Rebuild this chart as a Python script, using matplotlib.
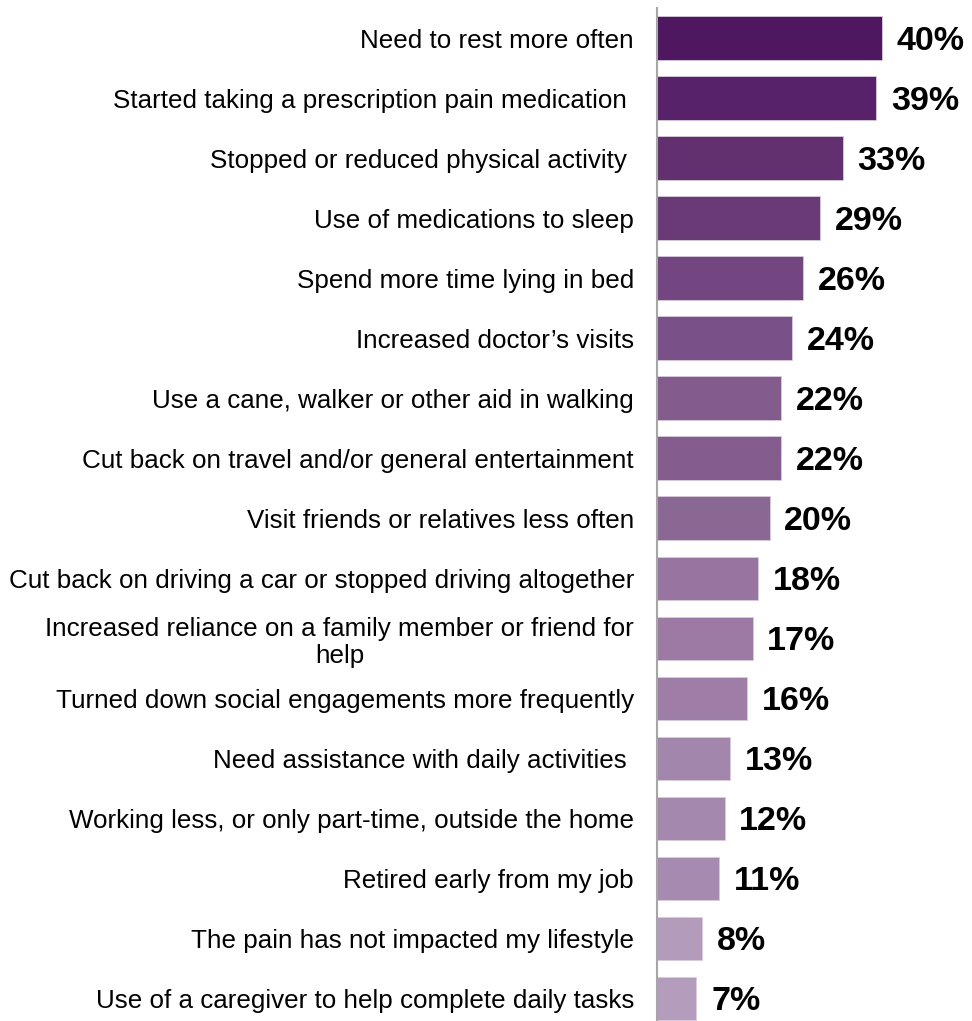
import numpy as np
import matplotlib.pyplot as plt

plt.rcParams['font.family'] = ['Liberation Sans', 'DejaVu Sans']

impacts = [
    'Need to rest more often',
    'Started taking a prescription pain medication ',
    'Stopped or reduced physical activity ',
    'Use of medications to sleep',
    'Spend more time lying in bed',
    'Increased doctor\u2019s visits',
    'Use a cane, walker or other aid in walking',
    'Cut back on travel and/or general entertainment',
    'Visit friends or relatives less often',
    'Cut back on driving a car or stopped driving altogether',
    'Increased reliance on a family member or friend for\nhelp',
    'Turned down social engagements more frequently',
    'Need assistance with daily activities ',
    'Working less, or only part-time, outside the home',
    'Retired early from my job',
    'The pain has not impacted my lifestyle',
    'Use of a caregiver to help complete daily tasks',
]
percent = [40, 39, 33, 29, 26, 24, 22, 22, 20, 18, 17, 16, 13, 12, 11, 8, 7]

# purple shades, darkest at the top
colors = ['#4E1760', '#58226A', '#63306F', '#6A3A77', '#734581', '#7A5089',
          '#835C8D', '#845D8E', '#8A6894', '#9875A0', '#9C7AA3', '#9E7DA6',
          '#A386AC', '#A488AD', '#A78AAF', '#B39BBB', '#B49CBC']

W, H = 972, 1021
fig = plt.figure(figsize=(W / 100, H / 100), dpi=100)
ax = fig.add_axes([657 / W, 0, 315 / W, (H - 8) / H])

n = len(percent)
y = np.arange(n)
ax.barh(y, percent, height=0.72, color=colors, edgecolor='#D8CCDD', linewidth=0.6)

ax.set_xlim(0, 56)
ax.set_ylim(16.38, -0.5)

ax.set_yticks(y)
ax.set_yticklabels(impacts, fontsize=18.7, multialignment='center', linespacing=1.2)
ax.tick_params(axis='y', length=0, pad=16.5)
ax.set_xticks([])

for s in ['top', 'right', 'bottom']:
    ax.spines[s].set_visible(False)
ax.spines['left'].set_color('#A6A6A6')
ax.spines['left'].set_linewidth(1.5)

for i, v in enumerate(percent):
    ax.text(v + 2.6, i + 0.05, f'{v}%', va='center', ha='left',
            fontsize=24.5, fontweight='bold', color='black')

fig.savefig('out.png', dpi=100)
